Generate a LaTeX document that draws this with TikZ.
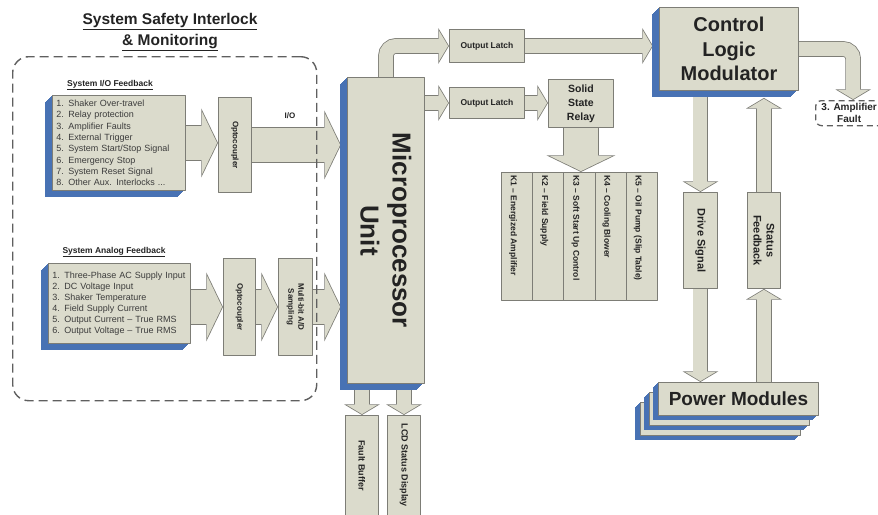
\documentclass[tikz,border=0pt]{standalone}
\usepackage{fontspec}
\setmainfont{Liberation Sans}
\usetikzlibrary{arrows.meta,shadows,backgrounds}

\definecolor{boxfill}{RGB}{219,219,204}
\definecolor{edge}{RGB}{125,125,118}
\definecolor{blueside}{RGB}{72,114,180}
\definecolor{ink}{RGB}{35,35,35}
\definecolor{listink}{RGB}{60,60,60}
\definecolor{dashgray}{RGB}{95,95,95}

\newcommand{\fsize}[2]{\fontsize{#1}{#2}\selectfont}
% fat block arrows: grey rim first, beige core on top
\newcommand{\conduit}[3][]{\draw[#2out,#1] #3; \draw[#2in,#1] #3;}

\tikzset{
  box/.style={draw=edge, fill=boxfill, line width=0.9pt, inner sep=2pt, text=ink, font=\bfseries, anchor=north west},
  side/.style={general shadow={fill=blueside, shadow xshift=-#1pt, shadow yshift=-#1pt}},
  slab/.style={side=7,side=6,side=5,side=4,side=3,side=2,side=1},
  thinslab/.style={side=5,side=4,side=3,side=2,side=1},
  vtext/.style 2 args={label={[rotate=-90,align=center,text=ink,font=#1]center:{#2}}},
  group/.style={draw=dashgray, dash pattern=on 9pt off 5pt, line width=1.4pt, rounded corners=16pt, anchor=north west},
  thinout/.style={draw=edge, line width=15.6pt, -{Triangle[width=35.8pt,length=10.7pt,line width=0pt]}},
  thinin/.style={draw=boxfill, line width=14pt, shorten >=0.9pt, -{Triangle[width=30pt,length=9pt,line width=0pt]}},
  wideout/.style={draw=edge, line width=35.6pt, -{Triangle[width=69pt,length=16.7pt,line width=0pt]}},
  widein/.style={draw=boxfill, line width=34pt, shorten >=0.9pt, -{Triangle[width=62pt,length=15pt,line width=0pt]}}
}

\begin{document}
\begin{tikzpicture}[x=1pt,y=-1pt,line join=round]
\useasboundingbox (0,0) rectangle (878,514);
\clip (0,0) rectangle (878,514);

% safety interlock group
\node[font=\bfseries\fsize{15.5}{21}, text=ink, align=center] (title) at (170,32)
  {\underline{System Safety Interlock}\\\underline{\& Monitoring}};
\node[group, minimum width=304, minimum height=344] (safety) at (12,56) {};

\node[font=\bfseries\fsize{8.5}{10}, text=ink] (iohead) at (110,85) {\underline{System I/O Feedback}};
\node[box, slab, minimum width=133, minimum height=95, text width=125, align=left, text=listink, font=\fsize{9}{11.3}] (iobox) at (52,95)
  {1. Shaker Over-travel\\2. Relay protection\\3. Amplifier Faults\\4. External Trigger\\5. System Start/Stop Signal\\6. Emergency Stop\\7. System Reset Signal\\8. Other Aux. Interlocks ...};
\node[box, minimum width=33, minimum height=95, vtext={\bfseries\fsize{8}{10}}{Optocoupler}] (opto1) at (218,97) {};
\node[font=\bfseries\fsize{8}{10}, text=ink] (iotag) at (290,116) {I/O};

\node[font=\bfseries\fsize{8.5}{10}, text=ink] (anhead) at (114,252) {\underline{System Analog Feedback}};
\node[box, slab, minimum width=142, minimum height=80, text width=134, align=left, text=listink, font=\fsize{9}{11}] (anbox) at (48,263)
  {1. Three-Phase AC Supply Input\\2. DC Voltage Input\\3. Shaker Temperature\\4. Field Supply Current\\5. Output Current -- True RMS\\6. Output Voltage -- True RMS};
\node[box, minimum width=32, minimum height=97, vtext={\bfseries\fsize{8}{10}}{Optocoupler}] (opto2) at (223,258) {};
\node[box, minimum width=34, minimum height=97, vtext={\bfseries\fsize{8}{10}}{Multi-bit A/D\\Sampling}] (ad) at (278,258) {};

% processor and outputs
\node[box, slab, minimum width=77, minimum height=306, vtext={\bfseries\fsize{26}{32}}{Microprocessor\\Unit}] (mpu) at (347,77) {};
\coordinate (mpuin) at ([xshift=-6pt]mpu.west);
\node[box, minimum width=33, minimum height=100, vtext={\bfseries\fsize{9}{11}}{Fault Buffer}] (faultbuf) at (345,415) {};
\node[box, minimum width=33, minimum height=100, vtext={\bfseries\fsize{9}{11}}{LCD Status Display}] (lcd) at (387,415) {};

\node[box, minimum width=75, minimum height=33, font=\bfseries\fsize{8.5}{10}] (latch1) at (449,29) {Output Latch};
\node[box, minimum width=75, minimum height=31, font=\bfseries\fsize{8.5}{10}] (latch2) at (449,87) {Output Latch};
\node[box, minimum width=65, minimum height=48, align=center, font=\bfseries\fsize{10.5}{14}] (ssr) at (548,79) {Solid\\State\\Relay};

\foreach \i/\txt in {1/{K1 -- Energized Amplifier},2/{K2 -- Field Supply},3/{K3 -- Soft Start Up Control},4/{K4 -- Cooling Blower},5/{K5 -- Oil Pump (Slip Table)}}
  \node[box, minimum width=31.2, minimum height=128,
        label={[rotate=-90,anchor=west,label distance=-4pt,text=ink,font=\bfseries\fsize{8.5}{10}]north:{\txt}}] (k\i) at ({501+31.2*(\i-1)},172) {};

% control side
\node[box, slab, minimum width=139, minimum height=83, align=center, font=\bfseries\fsize{20}{24.5}] (clm) at (659,7) {Control\\Logic\\Modulator};
\coordinate (clmin) at ([xshift=-6pt]clm.west);
\coordinate (clmout) at ([yshift=-7pt]clm.south);
\node[draw=dashgray, dash pattern=on 6pt off 4pt, line width=1.3pt, rounded corners=6pt, anchor=north west,
      minimum width=75, minimum height=25,
      label={[xshift=-4pt,align=center,text=ink,font=\bfseries\fsize{10}{12}]center:{3. Amplifier\\Fault}}] (fault) at (815,100) {};
\node[box, minimum width=34, minimum height=96, vtext={\bfseries\fsize{11}{13}}{Drive Signal}] (drive) at (683,192) {};
\node[box, minimum width=33, minimum height=96, vtext={\bfseries\fsize{11}{13}}{Status\\Feedback}] (status) at (747,192) {};

\node[box, thinslab, minimum width=160, minimum height=33] (pm3) at (640,402) {};
\node[box, thinslab, minimum width=160, minimum height=33] (pm2) at (649,392) {};
\node[box, thinslab, minimum width=160, minimum height=33, font=\bfseries\fsize{19}{22}] (pm1) at (658,382) {Power Modules};

% block arrows underneath
\begin{scope}[on background layer]
\conduit{wide}{(iobox.east) -- (iobox.east -| opto1.west)}
\conduit{wide}{(opto1.east) -- (opto1.east -| mpuin)}
\conduit{wide}{(anbox.east |- opto2.west) -- (opto2.west)}
\conduit{wide}{(opto2.east) -- (ad.west)}
\conduit{wide}{(ad.east) -- (ad.east -| mpuin)}
\conduit[rounded corners=10pt]{thin}{(mpu.north) |- (latch1.west)}
\conduit{thin}{(mpu.east |- latch2.west) -- (latch2.west)}
\conduit{thin}{(latch1.east) -- (latch1.east -| clmin)}
\conduit{thin}{(latch2.east) -- (ssr.west |- latch2.east)}
\conduit{wide}{(ssr.south) -- (ssr.south |- k3.north)}
\conduit[rounded corners=10pt]{thin}{(clm.east) -| (fault.north)}
\conduit{thin}{(drive.north |- clm.south) -- (drive.north)}
\conduit{thin}{(drive.south) -- (drive.south |- pm1.north)}
\conduit{thin}{(status.south |- pm1.north) -- (status.south)}
\conduit{thin}{(status.north) -- (status.north |- clmout)}
\conduit{thin}{(faultbuf.north |- mpu.south) -- (faultbuf.north)}
\conduit{thin}{(lcd.north |- mpu.south) -- (lcd.north)}
\end{scope}
\end{tikzpicture}
\end{document}
